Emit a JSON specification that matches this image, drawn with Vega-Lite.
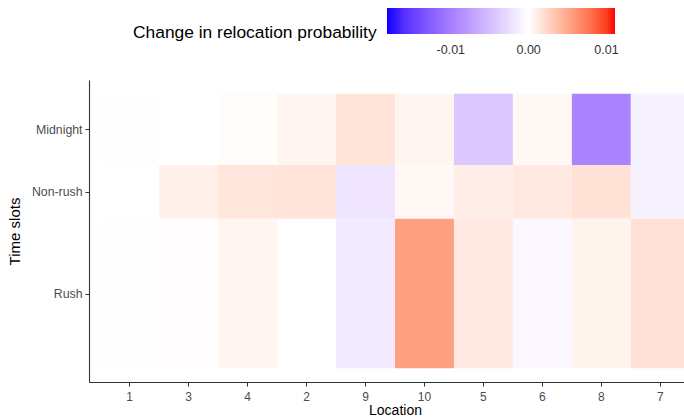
{
  "$schema": "https://vega.github.io/schema/vega-lite/v6.json",
  "width": 595,
  "height": 302,
  "autosize": {"type": "none"},
  "padding": {"left": 89, "top": 80, "right": 0, "bottom": 36},
  "background": "white",
  "datasets": {
    "slots": [
      {"slot": "Rush", "start": 0, "end": 13.06},
      {"slot": "Non-rush", "start": 13.06, "end": 17.76},
      {"slot": "Midnight", "start": 17.76, "end": 24}
    ]
  },
  "data": {
    "values": [
      {"location": 1, "slot": "Midnight", "value": 0.00004},
      {"location": 3, "slot": "Midnight", "value": 0.0},
      {"location": 4, "slot": "Midnight", "value": 0.0002},
      {"location": 2, "slot": "Midnight", "value": 0.0006},
      {"location": 9, "slot": "Midnight", "value": 0.0016},
      {"location": 10, "slot": "Midnight", "value": 0.0006},
      {"location": 5, "slot": "Midnight", "value": -0.0043},
      {"location": 6, "slot": "Midnight", "value": 0.0004},
      {"location": 8, "slot": "Midnight", "value": -0.0096},
      {"location": 7, "slot": "Midnight", "value": -0.001},
      {"location": 1, "slot": "Non-rush", "value": 0.0},
      {"location": 3, "slot": "Non-rush", "value": 0.0009},
      {"location": 4, "slot": "Non-rush", "value": 0.0015},
      {"location": 2, "slot": "Non-rush", "value": 0.0016},
      {"location": 9, "slot": "Non-rush", "value": -0.002},
      {"location": 10, "slot": "Non-rush", "value": 0.0004},
      {"location": 5, "slot": "Non-rush", "value": 0.001},
      {"location": 6, "slot": "Non-rush", "value": 0.0013},
      {"location": 8, "slot": "Non-rush", "value": 0.0018},
      {"location": 7, "slot": "Non-rush", "value": -0.001},
      {"location": 1, "slot": "Rush", "value": 0.00004},
      {"location": 3, "slot": "Rush", "value": 0.0001},
      {"location": 4, "slot": "Rush", "value": 0.0006},
      {"location": 2, "slot": "Rush", "value": 0.0},
      {"location": 9, "slot": "Rush", "value": -0.0016},
      {"location": 10, "slot": "Rush", "value": 0.0055},
      {"location": 5, "slot": "Rush", "value": 0.0013},
      {"location": 6, "slot": "Rush", "value": -0.0005},
      {"location": 8, "slot": "Rush", "value": 0.0007},
      {"location": 7, "slot": "Rush", "value": 0.0017}
    ]
  },
  "transform": [
    {"lookup": "slot", "from": {"data": {"name": "slots"}, "key": "slot", "fields": ["start", "end"]}}
  ],
  "mark": {"type": "rect", "strokeWidth": 0},
  "encoding": {
    "x": {
      "field": "location",
      "type": "ordinal",
      "sort": [1, 3, 4, 2, 9, 10, 5, 6, 8, 7],
      "scale": {"range": [0, 612], "paddingInner": 0, "paddingOuter": 0.19},
      "axis": {
        "title": "Location",
        "labelAngle": 0,
        "labelColor": "#4d4d4d",
        "labelFontSize": 12,
        "labelPadding": 5,
        "titleFontSize": 14,
        "titleFontWeight": "normal",
        "titleColor": "black",
        "titlePadding": 1,
        "domainColor": "#333333",
        "domainWidth": 1.1,
        "tickColor": "#333333",
        "tickSize": 4,
        "grid": false
      }
    },
    "y": {
      "field": "start",
      "type": "quantitative",
      "scale": {"domain": [-1.2, 25.2], "nice": false, "zero": false},
      "axis": {
        "title": "Time slots",
        "values": [6.53, 15.41, 20.88],
        "labelExpr": "datum.value < 10 ? 'Rush' : datum.value < 18 ? 'Non-rush' : 'Midnight'",
        "labelColor": "#4d4d4d",
        "labelFontSize": 12.3,
        "labelPadding": 3,
        "titleFontSize": 15,
        "titleFontWeight": "normal",
        "titleColor": "black",
        "titlePadding": 9,
        "domainColor": "#333333",
        "domainWidth": 1.1,
        "tickColor": "#333333",
        "tickSize": 4,
        "grid": false
      }
    },
    "y2": {"field": "end"},
    "color": {
      "field": "value",
      "type": "quantitative",
      "scale": {
        "domain": [-0.0182, 0, 0.0111],
        "range": ["#0000ff", "#ffffff", "#ff0000"],
        "interpolate": "lab"
      },
      "legend": {
        "orient": "none",
        "legendX": 44,
        "legendY": -72,
        "direction": "horizontal",
        "title": "Change in relocation probability",
        "titleOrient": "left",
        "titleAnchor": "middle",
        "titleBaseline": "line-top",
        "titleLineHeight": 24,
        "titleLimit": 400,
        "titleFontSize": 17.4,
        "titleFontWeight": "normal",
        "titleColor": "black",
        "titlePadding": 10,
        "gradientLength": 228,
        "gradientThickness": 26,
        "gradientStrokeWidth": 0,
        "values": [-0.01, 0, 0.01],
        "labelExpr": "replace(format(datum.value, '.2f'), '\u2212', '-')",
        "labelFontSize": 12.5,
        "labelColor": "#333333",
        "labelOffset": 10
      }
    }
  },
  "config": {
    "font": "Liberation Sans",
    "view": {"stroke": null}
  }
}
